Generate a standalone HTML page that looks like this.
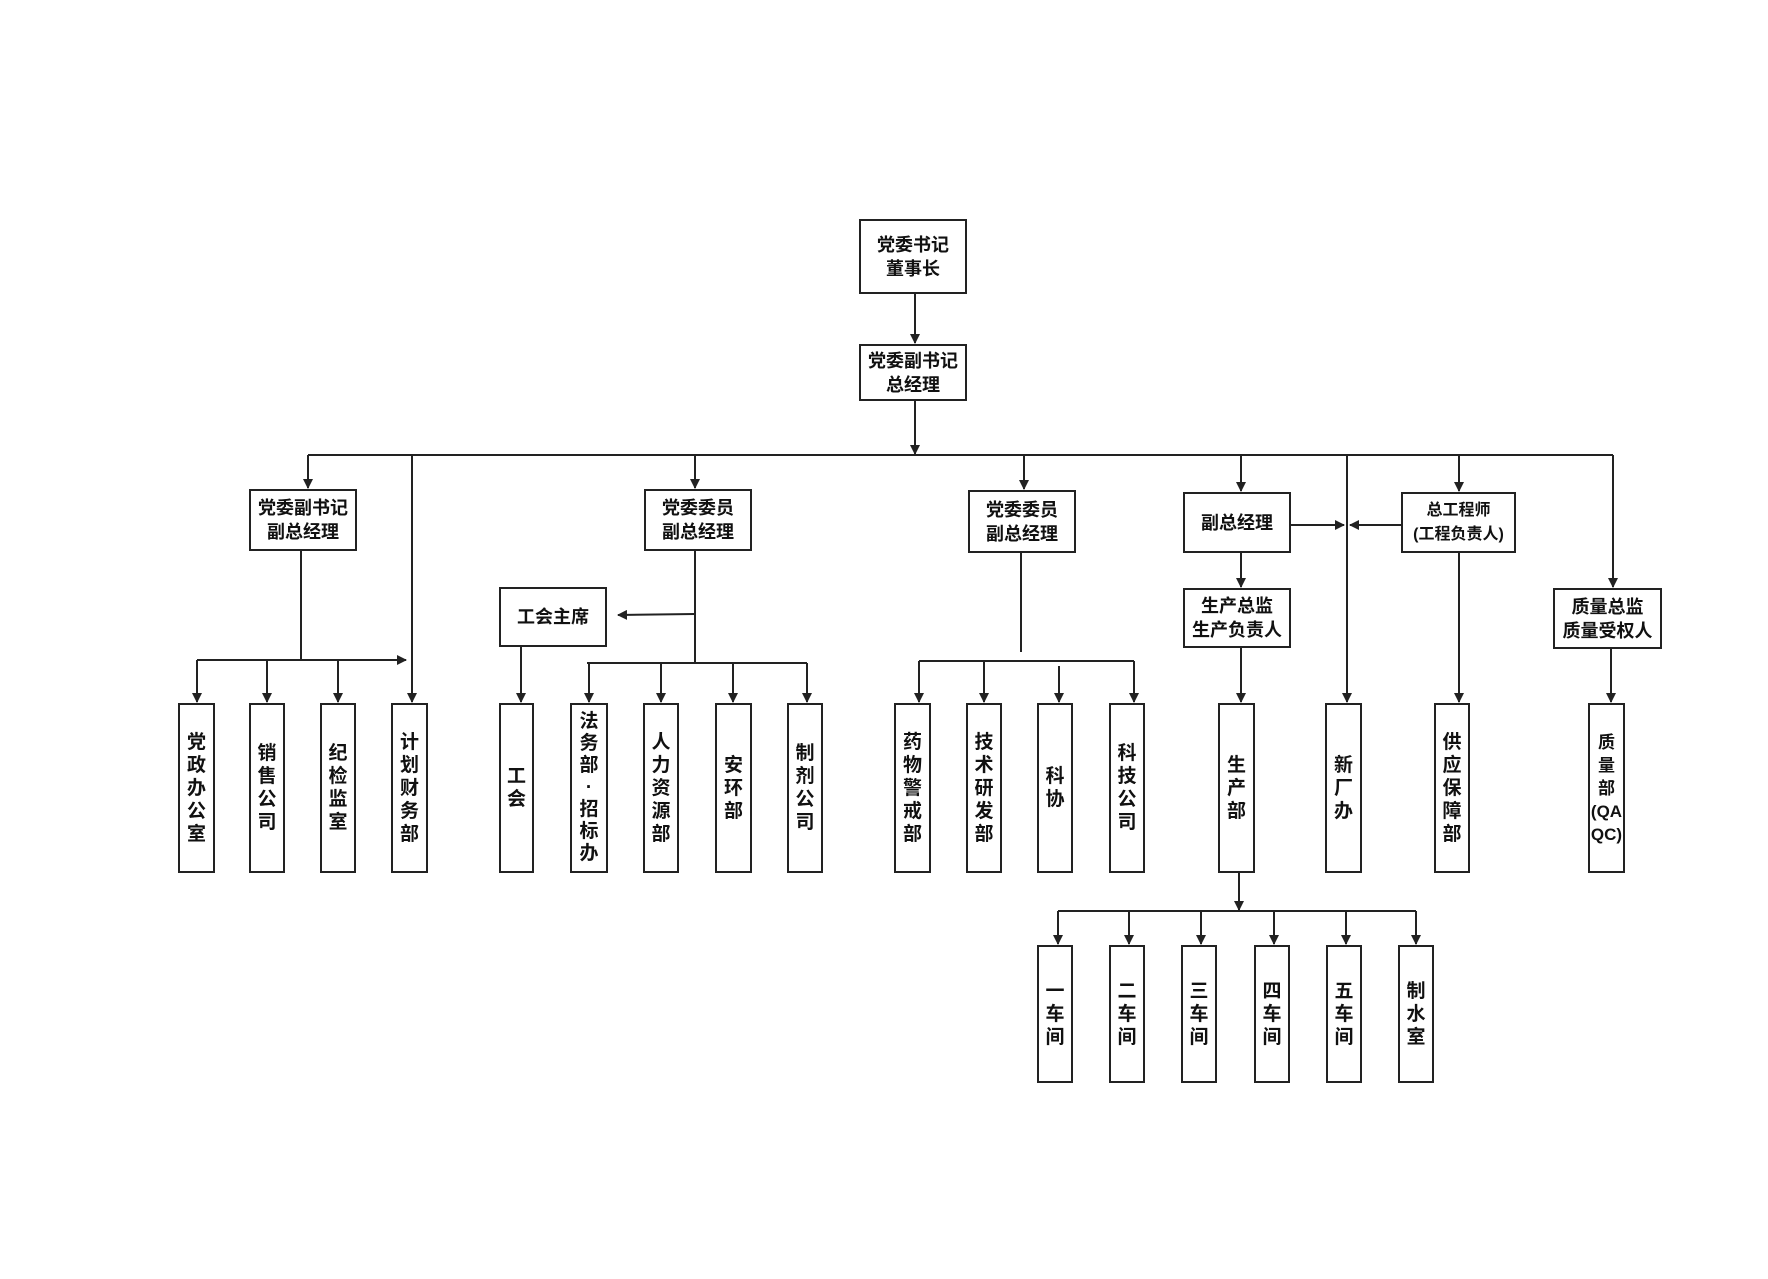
<!DOCTYPE html>
<html><head><meta charset="utf-8"><style>
body{margin:0;background:#fff;}
#c{position:relative;width:1768px;height:1279px;overflow:hidden;background:#fff;font-family:"Liberation Sans","Noto Sans CJK SC",sans-serif;color:#111;}
#w{position:absolute;left:-4px;top:-2px;width:1768px;height:1279px;}
.b{position:absolute;border:2px solid #222;box-sizing:border-box;display:flex;align-items:center;justify-content:center;text-align:center;font-size:18px;line-height:24px;font-weight:bold;background:#fff;}
.v{font-size:19px;line-height:23px;}
svg{position:absolute;left:0;top:0;}
</style></head><body><div id="c"><div id="w">
<svg width="1768" height="1279">
<defs><marker id="a" markerWidth="10" markerHeight="10" refX="9" refY="5" orient="auto" markerUnits="userSpaceOnUse"><path d="M0,0 L10,5 L0,10 z" fill="#222"/></marker></defs>
<g stroke="#222" stroke-width="2" fill="none">
<line x1="919" y1="296" x2="919" y2="345" marker-end="url(#a)"/>
<line x1="919" y1="403" x2="919" y2="456" marker-end="url(#a)"/>
<line x1="312" y1="457" x2="1617" y2="457"/>
<line x1="312" y1="457" x2="312" y2="490" marker-end="url(#a)"/>
<line x1="699" y1="457" x2="699" y2="490" marker-end="url(#a)"/>
<line x1="1028" y1="457" x2="1028" y2="491" marker-end="url(#a)"/>
<line x1="1245" y1="457" x2="1245" y2="493" marker-end="url(#a)"/>
<line x1="1463" y1="457" x2="1463" y2="493" marker-end="url(#a)"/>
<line x1="1617" y1="457" x2="1617" y2="589" marker-end="url(#a)"/>
<line x1="416" y1="457" x2="416" y2="704" marker-end="url(#a)"/>
<line x1="1351" y1="457" x2="1351" y2="704" marker-end="url(#a)"/>
<line x1="305" y1="553" x2="305" y2="662"/>
<line x1="201" y1="662" x2="410" y2="662" marker-end="url(#a)"/>
<line x1="201" y1="662" x2="201" y2="704" marker-end="url(#a)"/>
<line x1="271" y1="662" x2="271" y2="704" marker-end="url(#a)"/>
<line x1="342" y1="662" x2="342" y2="704" marker-end="url(#a)"/>
<line x1="699" y1="553" x2="699" y2="665"/>
<line x1="699" y1="616" x2="622" y2="617" marker-end="url(#a)"/>
<line x1="591" y1="665" x2="811" y2="665"/>
<line x1="593" y1="665" x2="593" y2="704" marker-end="url(#a)"/>
<line x1="665" y1="665" x2="665" y2="704" marker-end="url(#a)"/>
<line x1="737" y1="665" x2="737" y2="704" marker-end="url(#a)"/>
<line x1="811" y1="665" x2="811" y2="704" marker-end="url(#a)"/>
<line x1="525" y1="649" x2="525" y2="704" marker-end="url(#a)"/>
<line x1="1025" y1="555" x2="1025" y2="654"/>
<line x1="923" y1="663" x2="1138" y2="663"/>
<line x1="923" y1="663" x2="923" y2="704" marker-end="url(#a)"/>
<line x1="988" y1="663" x2="988" y2="704" marker-end="url(#a)"/>
<line x1="1063" y1="668" x2="1063" y2="704" marker-end="url(#a)"/>
<line x1="1138" y1="663" x2="1138" y2="704" marker-end="url(#a)"/>
<line x1="1245" y1="555" x2="1245" y2="589" marker-end="url(#a)"/>
<line x1="1295" y1="527" x2="1348" y2="527" marker-end="url(#a)"/>
<line x1="1405" y1="527" x2="1354" y2="527" marker-end="url(#a)"/>
<line x1="1245" y1="650" x2="1245" y2="704" marker-end="url(#a)"/>
<line x1="1463" y1="555" x2="1463" y2="704" marker-end="url(#a)"/>
<line x1="1615" y1="651" x2="1615" y2="704" marker-end="url(#a)"/>
<line x1="1243" y1="875" x2="1243" y2="912" marker-end="url(#a)"/>
<line x1="1062" y1="913" x2="1420" y2="913"/>
<line x1="1062" y1="913" x2="1062" y2="946" marker-end="url(#a)"/>
<line x1="1133" y1="913" x2="1133" y2="946" marker-end="url(#a)"/>
<line x1="1205" y1="913" x2="1205" y2="946" marker-end="url(#a)"/>
<line x1="1278" y1="913" x2="1278" y2="946" marker-end="url(#a)"/>
<line x1="1350" y1="913" x2="1350" y2="946" marker-end="url(#a)"/>
<line x1="1420" y1="913" x2="1420" y2="946" marker-end="url(#a)"/>
</g></svg>
<div class="b" style="left:863px;top:221px;width:108px;height:75px">党委书记<br>董事长</div>
<div class="b" style="left:863px;top:346px;width:108px;height:57px">党委副书记<br>总经理</div>
<div class="b" style="left:253px;top:491px;width:108px;height:62px">党委副书记<br>副总经理</div>
<div class="b" style="left:648px;top:491px;width:108px;height:62px">党委委员<br>副总经理</div>
<div class="b" style="left:972px;top:492px;width:108px;height:63px">党委委员<br>副总经理</div>
<div class="b" style="left:1187px;top:494px;width:108px;height:61px">副总经理</div>
<div class="b" style="left:1405px;top:494px;width:115px;height:61px;font-size:16px;white-space:nowrap">总工程师<br>(工程负责人)</div>
<div class="b" style="left:1557px;top:590px;width:109px;height:61px">质量总监<br>质量受权人</div>
<div class="b" style="left:1187px;top:590px;width:108px;height:60px">生产总监<br>生产负责人</div>
<div class="b" style="left:503px;top:589px;width:108px;height:60px">工会主席</div>

<div class="b v" style="left:182px;top:705px;width:37px;height:170px">党<br>政<br>办<br>公<br>室</div>
<div class="b v" style="left:253px;top:705px;width:36px;height:170px">销<br>售<br>公<br>司</div>
<div class="b v" style="left:324px;top:705px;width:36px;height:170px">纪<br>检<br>监<br>室</div>
<div class="b v" style="left:395px;top:705px;width:37px;height:170px">计<br>划<br>财<br>务<br>部</div>
<div class="b v" style="left:503px;top:705px;width:35px;height:170px">工<br>会</div>
<div class="b v" style="left:574px;top:705px;width:38px;height:170px;line-height:22px">法<br>务<br>部<br>·<br>招<br>标<br>办</div>
<div class="b v" style="left:647px;top:705px;width:36px;height:170px">人<br>力<br>资<br>源<br>部</div>
<div class="b v" style="left:719px;top:705px;width:37px;height:170px">安<br>环<br>部</div>
<div class="b v" style="left:791px;top:705px;width:36px;height:170px">制<br>剂<br>公<br>司</div>
<div class="b v" style="left:898px;top:705px;width:37px;height:170px">药<br>物<br>警<br>戒<br>部</div>
<div class="b v" style="left:970px;top:705px;width:36px;height:170px">技<br>术<br>研<br>发<br>部</div>
<div class="b v" style="left:1041px;top:705px;width:36px;height:170px">科<br>协</div>
<div class="b v" style="left:1113px;top:705px;width:36px;height:170px">科<br>技<br>公<br>司</div>
<div class="b v" style="left:1222px;top:705px;width:37px;height:170px">生<br>产<br>部</div>
<div class="b v" style="left:1329px;top:705px;width:37px;height:170px">新<br>厂<br>办</div>
<div class="b v" style="left:1438px;top:705px;width:36px;height:170px">供<br>应<br>保<br>障<br>部</div>
<div class="b v" style="left:1592px;top:705px;width:37px;height:170px;font-size:17px">质<br>量<br>部<br>(QA<br>QC)</div>

<div class="b v" style="left:1041px;top:947px;width:36px;height:138px">一<br>车<br>间</div>
<div class="b v" style="left:1113px;top:947px;width:36px;height:138px">二<br>车<br>间</div>
<div class="b v" style="left:1185px;top:947px;width:36px;height:138px">三<br>车<br>间</div>
<div class="b v" style="left:1258px;top:947px;width:36px;height:138px">四<br>车<br>间</div>
<div class="b v" style="left:1330px;top:947px;width:36px;height:138px">五<br>车<br>间</div>
<div class="b v" style="left:1402px;top:947px;width:36px;height:138px">制<br>水<br>室</div>
</div></div></body></html>
